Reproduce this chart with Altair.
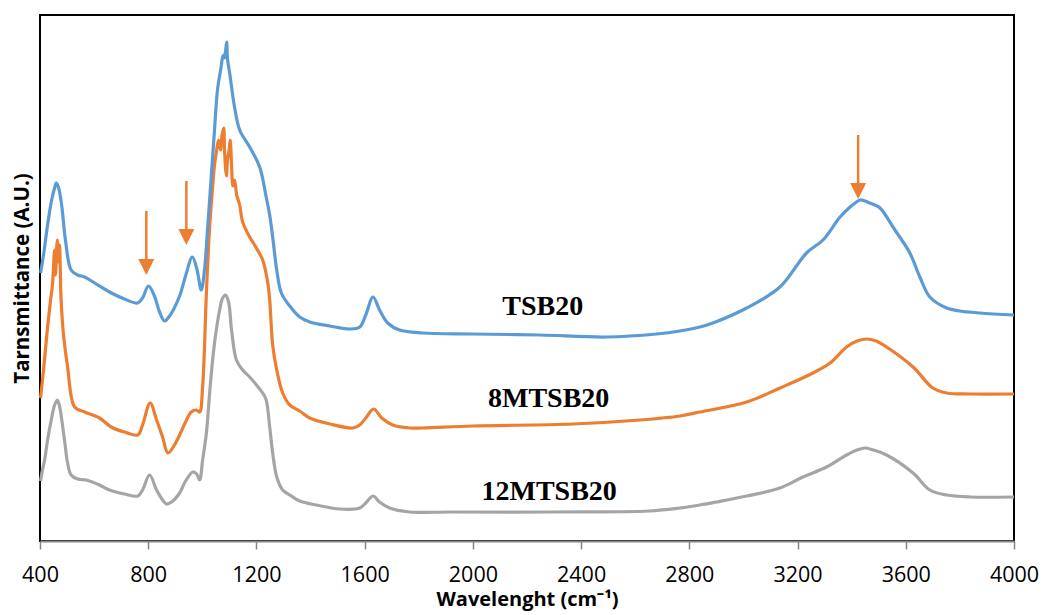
import altair as alt
import pandas as pd

# TSB20 (blue)
tsb_x = [402, 413, 428, 443, 454, 460, 468, 480, 494, 515, 539, 565, 602, 657, 712, 761, 779, 801, 823, 842,
         860, 879, 916, 938, 963, 979, 996, 1008, 1019, 1027, 1045, 1056, 1070, 1075, 1079, 1082, 1086, 1090,
         1093, 1101, 1119, 1138, 1175, 1212, 1236, 1249, 1260, 1275, 1292, 1323, 1360, 1397, 1471, 1545, 1582,
         1604, 1631, 1655, 1685, 1729, 1814, 1999, 2247, 2494, 2679, 2765, 2839, 2887, 3012, 3135, 3233, 3294,
         3357, 3394, 3413, 3431, 3450, 3467, 3486, 3505, 3560, 3615, 3652, 3689, 3751, 3800, 3874, 4000]
tsb_y = [268, 286, 316, 341, 353, 358, 354, 336, 301, 271, 266, 264, 258, 249, 242, 238, 243, 255, 245, 229,
         220, 225, 245, 265, 284, 273, 251, 271, 311, 341, 411, 451, 475, 484, 486, 483, 490, 499,
         482, 468, 434, 411, 394, 374, 344, 326, 304, 271, 248, 235, 224, 219, 215, 212, 214,
         226, 244, 231, 218, 211, 208, 207, 206, 204, 207, 210, 214, 218, 233, 254, 288, 301,
         324, 334, 338, 341, 340, 338, 336, 333, 311, 288, 264, 244, 233, 230, 228, 226]

# 8MTSB20 (orange)
m8_x = [402, 413, 428, 439, 446, 454, 457, 464, 468, 472, 478, 487, 502, 528, 565, 620, 663, 712, 761, 779,
        807, 831, 853, 873, 897, 916, 938, 959, 978, 990, 1001, 1015, 1027, 1038, 1045, 1053, 1060, 1067,
        1073, 1079, 1082, 1089, 1093, 1099, 1103, 1108, 1113, 1119, 1127, 1138, 1149, 1175, 1193, 1223,
        1242, 1249, 1260, 1275, 1297, 1323, 1360, 1397, 1471, 1556, 1582, 1604, 1633, 1663, 1704, 1766,
        1814, 1999, 2369, 2617, 2765, 2839, 3012, 3135, 3257, 3320, 3381, 3420, 3455, 3490, 3529, 3627,
        3700, 3751, 3837, 4000]
m8_y = [143, 171, 214, 241, 256, 291, 266, 301, 279, 296, 241, 206, 174, 134, 129, 123, 114, 109, 106, 116,
        138, 121, 104, 88, 96, 106, 119, 129, 131, 129, 154, 248, 314, 354, 376, 391, 401, 391,
        406, 413, 391, 365, 381, 391, 401, 376, 355, 361, 346, 336, 319, 304, 296, 281,
        258, 241, 196, 171, 148, 136, 130, 123, 117, 113, 116, 123, 132, 123, 116, 113,
        113, 115, 117, 121, 125, 129, 139, 153, 168, 178, 194, 200, 202, 200, 194, 174,
        153, 148, 147, 147]

# 12MTSB20 (gray)
m12_x = [402, 409, 417, 428, 443, 454, 464, 472, 480, 491, 502, 515, 539, 571, 620, 657, 712, 762, 779, 805,
         831, 853, 867, 886, 916, 938, 965, 979, 990, 1001, 1015, 1027, 1038, 1049, 1064, 1075, 1086, 1097,
         1108, 1126, 1149, 1175, 1197, 1223, 1236, 1249, 1260, 1275, 1297, 1323, 1360, 1421, 1508, 1582,
         1604, 1631, 1655, 1692, 1766, 1914, 2284, 2654, 2765, 2839, 2900, 3012, 3135, 3220, 3307, 3381,
         3420, 3449, 3480, 3529, 3627, 3689, 3751, 3837, 4000]
m12_y = [60, 71, 81, 101, 123, 136, 141, 135, 122, 100, 78, 66, 62, 61, 56, 51, 47, 45, 51, 66,
         51, 41, 37, 39, 48, 60, 69, 67, 61, 81, 108, 148, 181, 206, 231, 243, 246, 239,
         211, 181, 171, 164, 157, 148, 141, 114, 88, 64, 51, 46, 40, 36, 32, 33,
         38, 45, 39, 33, 29, 29, 29, 30, 33, 36, 39, 45, 53, 64, 74, 86,
         91, 93, 91, 86, 68, 51, 46, 44, 44]

series_names = ["12MTSB20", "8MTSB20", "TSB20"]
series_colors = ["#A5A5A5", "#ED7D31", "#5B9BD5"]

# arrows (orange) marking bands
arrow_x = [793, 941, 3424]
arrow_top = [330, 360, 406]
arrow_base = [282, 312, 358]
arrow_head = [274, 304, 350]

# labels
label_text = ["TSB20", "8MTSB20", "12MTSB20"]
label_x = [2258, 2280, 2282]
label_y = [226, 134, 41]

rows = []
for name, xs, ys in [("12MTSB20", m12_x, m12_y), ("8MTSB20", m8_x, m8_y), ("TSB20", tsb_x, tsb_y)]:
    for i, (a, b) in enumerate(zip(xs, ys)):
        rows.append({"series": name, "wn": a, "t": b, "order": i})
df = pd.DataFrame(rows)

arrows = pd.DataFrame({"x": arrow_x, "top": arrow_top, "base": arrow_base, "head": arrow_head})
labels = pd.DataFrame({"text": label_text, "x": label_x, "y": label_y})

xscale = alt.Scale(domain=[400, 4000], nice=False, zero=False)
yscale = alt.Scale(domain=[0, 526], nice=False, zero=False)

xaxis = alt.Axis(values=list(range(400, 4001, 400)), format="d", title="Wavelenght (cm\u207b\u00b9)",
                 grid=False, labelFont="Open Sans", labelFontSize=21.5, labelColor="black",
                 labelPadding=15, tickColor="#868686", tickSize=8, tickWidth=1.5,
                 domainColor="#868686", domainWidth=2, titleFont="Open Sans", titleFontSize=20,
                 titleFontWeight="bold", titleColor="black", titlePadding=4, labelFlush=False)
yaxis = alt.Axis(title="Tarnsmittance (A.U.)", labels=False, ticks=False, domain=False, grid=False,
                 titleFont="Open Sans", titleFontSize=20.5, titleFontWeight="bold", titleColor="black",
                 titlePadding=8)

lines = alt.Chart(df).mark_line(strokeWidth=3.2, interpolate="catmull-rom").encode(
    x=alt.X("wn:Q", scale=xscale, axis=xaxis),
    y=alt.Y("t:Q", scale=yscale, axis=yaxis),
    color=alt.Color("series:N", scale=alt.Scale(domain=series_names, range=series_colors), legend=None),
    order="order:Q",
)

shafts = alt.Chart(arrows).mark_rule(color="#ED7D31", strokeWidth=2.5).encode(
    x="x:Q", y="top:Q", y2="base:Q")
heads = alt.Chart(arrows).mark_point(shape="M-1,-1L1,-1L0,1Z", size=256, filled=True,
                                     color="#ED7D31", opacity=1).encode(x="x:Q", y="head:Q")

texts = alt.Chart(labels).mark_text(font="Liberation Serif", fontSize=28, fontWeight="bold",
                                    color="black", align="center", baseline="alphabetic").encode(
    x="x:Q", y="y:Q", text="text:N")

chart = alt.layer(lines, shafts, heads, texts).properties(
    width=974, height=526,
    autosize=alt.AutoSizeParams(type="none"),
    padding={"left": 40, "right": 31, "top": 15, "bottom": 74},
).configure_view(stroke="black", strokeWidth=2)

chart.save("out.html", embed_options={"renderer": "svg", "actions": False})
